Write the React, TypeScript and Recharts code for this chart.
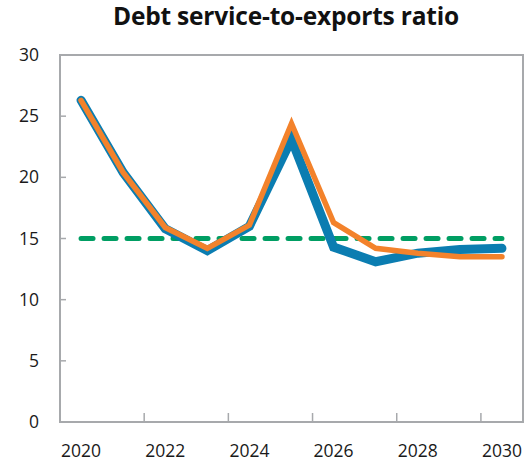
import React from 'react';
import { LineChart, Line, XAxis, YAxis, ReferenceArea } from 'recharts';

const years = [2020, 2021, 2022, 2023, 2024, 2025, 2026, 2027, 2028, 2029, 2030];
const current = [26.3, 20.4, 15.8, 14.0, 16.0, 23.1, 14.3, 13.1, 13.8, 14.1, 14.2];
const previous = [26.3, 20.4, 15.9, 14.2, 16.1, 24.4, 16.3, 14.2, 13.8, 13.5, 13.5];
const threshold = [15, 15, 15, 15, 15, 15, 15, 15, 15, 15, 15];
const yTicks = [0, 5, 10, 15, 20, 25, 30];

const W = 527;
const H = 464;
const M = { top: 55, right: 4, left: 0, bottom: 0 };
const Y_WIDTH = 60;
const X_HEIGHT = 42;
const BAND = (W - M.right - Y_WIDTH) / years.length;
const AXIS = '#a7a9ac';
const FONT = '"Open Sans", "Noto Sans", sans-serif';

const data = years.map((y, i) => ({
  year: y,
  current: current[i],
  previous: previous[i],
  threshold: threshold[i],
}));

const YTick = ({ y, payload }: any) => (
  <g>
    {payload.value > 0 && payload.value < 30 && (
      <line x1={Y_WIDTH} x2={Y_WIDTH + 6} y1={y} y2={y} stroke={AXIS} strokeWidth={1.5} />
    )}
    <text x={39} y={y} dy={6} textAnchor="end" fontSize={17.5} fill="#1a1a1a" fontFamily={FONT}>
      {payload.value}
    </text>
  </g>
);

const XTick = ({ x, y, payload }: any) => {
  if (payload.value % 2 !== 0) return null;
  const axisY = H - X_HEIGHT;
  const left = x - BAND / 2;
  return (
    <g>
      {payload.value !== years[0] && (
        <line x1={left} x2={left} y1={axisY} y2={axisY - 9} stroke={AXIS} strokeWidth={1.5} />
      )}
      <text x={x} y={axisY + 35} textAnchor="middle" fontSize={17.5} fill="#1a1a1a" fontFamily={FONT}>
        {payload.value}
      </text>
    </g>
  );
};

export default function App() {
  return (
    <div style={{ position: 'absolute', left: 0, top: 0, width: W, height: H, background: '#fff' }}>
      <div
        style={{
          position: 'absolute', left: 0, width: 572, top: 0, textAlign: 'center', lineHeight: '32px',
          fontFamily: FONT, fontWeight: 700, fontSize: 24.5, letterSpacing: -0.2, color: '#111',
        }}
      >
        Debt service-to-exports ratio
      </div>
      <LineChart width={W} height={H} data={data} margin={M}>
        <XAxis
          dataKey="year"
          scale="band"
          interval={0}
          height={X_HEIGHT}
          tickLine={false}
          axisLine={{ stroke: AXIS, strokeWidth: 2 }}
          tick={<XTick />}
        />
        <YAxis
          domain={[0, 30]}
          ticks={yTicks}
          width={Y_WIDTH}
          tickLine={false}
          axisLine={{ stroke: AXIS, strokeWidth: 2 }}
          tick={<YTick />}
        />
        <ReferenceArea y1={0} y2={30} fill="none" stroke={AXIS} strokeWidth={2} ifOverflow="visible" />
        <Line dataKey="threshold" stroke="#009e63" strokeWidth={5} strokeDasharray="12 11"
          strokeLinecap="round" dot={false} isAnimationActive={false} />
        <Line dataKey="current" stroke="#0b7db1" strokeWidth={9} strokeLinecap="round"
          dot={false} isAnimationActive={false} />
        <Line dataKey="previous" stroke="#f3822b" strokeWidth={5.5} strokeLinecap="round"
          dot={false} isAnimationActive={false} />
      </LineChart>
    </div>
  );
}
